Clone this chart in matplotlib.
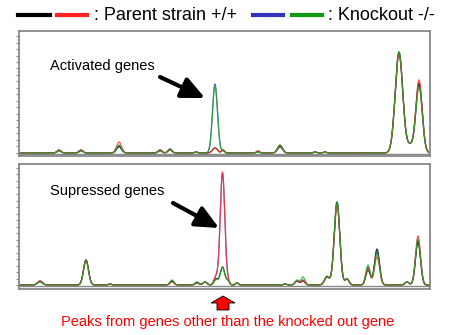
import numpy as np
import matplotlib.pyplot as plt
from matplotlib.lines import Line2D
from matplotlib.patches import Polygon

plt.rcParams['font.family'] = ['Liberation Sans', 'DejaVu Sans']

# retention time (min) of each peak, peak width (sigma, min) and heights per trace
top_pos = [4.0, 6.2, 10.0, 14.1, 15.1, 17.7, 19.6, 20.4, 23.9, 26.1, 29.6, 30.6, 38.0, 39.1, 40.0]
top_sig = [0.2, 0.2, 0.25, 0.2, 0.2, 0.15, 0.25, 0.15, 0.15, 0.25, 0.15, 0.15, 0.38, 0.3, 0.32]
top_black = [3, 3, 7, 3, 4, 1, 5, 3, 2, 7, 1, 1, 101, 7, 70]
top_red = [3, 3, 11, 3, 3, 1, 5, 3, 2, 8, 1, 1, 98, 7, 73]
top_blue = [2, 2, 6, 2, 3, 1, 69, 2, 1, 6, 1, 1, 99, 7, 68]
top_green = [2, 2, 8, 2, 4, 1, 67, 2, 1, 8, 1, 1, 101, 7, 66]

bot_pos = [2.1, 6.7, 9.1, 15.3, 17.8, 18.6, 19.7, 20.35, 20.9, 21.8, 26.6, 27.8, 28.4,
           30.8, 31.8, 32.8, 34.9, 35.8, 38.8, 39.9]
bot_sig = [0.25, 0.25, 0.15, 0.2, 0.2, 0.2, 0.2, 0.23, 0.15, 0.15, 0.15, 0.2, 0.2,
           0.25, 0.28, 0.2, 0.22, 0.25, 0.2, 0.25]
bot_black = [4, 25, 1, 4, 2, 3, 6, 18, 4, 2, 1, 4, 4, 8, 83, 6, 15, 36, 3, 43]
bot_red = [4, 24, 1, 3, 2, 3, 8, 113, 3, 2, 1, 4, 4, 8, 80, 6, 17, 28, 3, 49]
bot_blue = [3, 25, 1, 4, 3, 3, 8, 112, 3, 2, 1, 4, 5, 8, 82, 6, 18, 33, 3, 45]
bot_green = [3, 24, 1, 5, 3, 3, 5, 18, 4, 2, 1, 5, 8, 9, 83, 6, 20, 32, 3, 46]

colors = ['#3344cc', 'black', '#ff3030', '#22aa22']
t = np.linspace(0, 41.1, 1500)


def trace(pos, sig, h):
    y = np.zeros_like(t)
    for p, s, a in zip(pos, sig, h):
        y += a * np.exp(-0.5 * ((t - p) / s) ** 2)
    return y


def fpx(x, y):
    # figure pixel (from top-left) -> figure fraction
    return x / 450, 1 - y / 335


fig = plt.figure(figsize=(4.5, 3.35), dpi=100)
ax1 = fig.add_axes([19 / 450, 1 - 156 / 335, 411 / 450, 125 / 335])
ax2 = fig.add_axes([19 / 450, 1 - 289 / 335, 411 / 450, 125 / 335])

panels = [(ax1, top_pos, top_sig, [top_blue, top_black, top_red, top_green], (-3, 122)),
          (ax2, bot_pos, bot_sig, [bot_blue, bot_black, bot_red, bot_green], (-4, 121))]
for ax, pos, sig, series, ylim in panels:
    for h, c in zip(series, colors):
        ax.plot(t, trace(pos, sig, h), color=c, lw=0.9, alpha=0.8)
    ax.axhline(-1, color='#888888', lw=1)
    ax.set_xlim(0, 41.1)
    ax.set_ylim(*ylim)
    ax.set_xticks([])
    ax.set_yticks(np.arange(0, ylim[1], 6.5))
    ax.tick_params(axis='y', length=2, width=0.8, color='#888888', labelleft=False)
    for sp in ax.spines.values():
        sp.set_color('#888888')
        sp.set_linewidth(1.3)

# legend along the top
for (x0, x1), c in zip([(18, 50), (57, 87), (253, 283), (292, 322)],
                       ['black', '#ff2020', '#3333bb', '#119911']):
    fig.add_artist(Line2D([x0 / 450, x1 / 450], [1 - 15 / 335] * 2, color=c, lw=3))
fig.text(*fpx(94, 15), ': Parent strain +/+', fontsize=13, va='center', ha='left')
fig.text(*fpx(328, 15), ': Knockout -/-', fontsize=13, va='center', ha='left')

# labels with arrows
fig.text(*fpx(50, 66), 'Activated genes', fontsize=10.5, va='center', ha='left')
fig.text(*fpx(50, 191), 'Supressed genes', fontsize=10.5, va='center', ha='left')
arrow = dict(arrowstyle='-|>,head_length=1.4,head_width=0.65', color='black', lw=3,
             shrinkA=0, shrinkB=0)
ax1.annotate('', xy=fpx(205, 98), xytext=fpx(160, 77), xycoords='figure fraction',
             textcoords='figure fraction', arrowprops=arrow)
ax2.annotate('', xy=fpx(219, 228), xytext=fpx(173, 203), xycoords='figure fraction',
             textcoords='figure fraction', arrowprops=arrow)

# red block arrow under the panels
pts = [(217, 310), (229, 310), (229, 303), (235, 303), (223, 296), (211, 303), (217, 303)]
fig.add_artist(Polygon([fpx(x, y) for x, y in pts], closed=True, facecolor='red',
                       edgecolor='black', lw=0.6, transform=fig.transFigure))
fig.text(*fpx(228, 322), 'Peaks from genes other than the knocked out gene',
         color='red', fontsize=10.5, va='center', ha='center')

fig.savefig('out.png', dpi=100)
